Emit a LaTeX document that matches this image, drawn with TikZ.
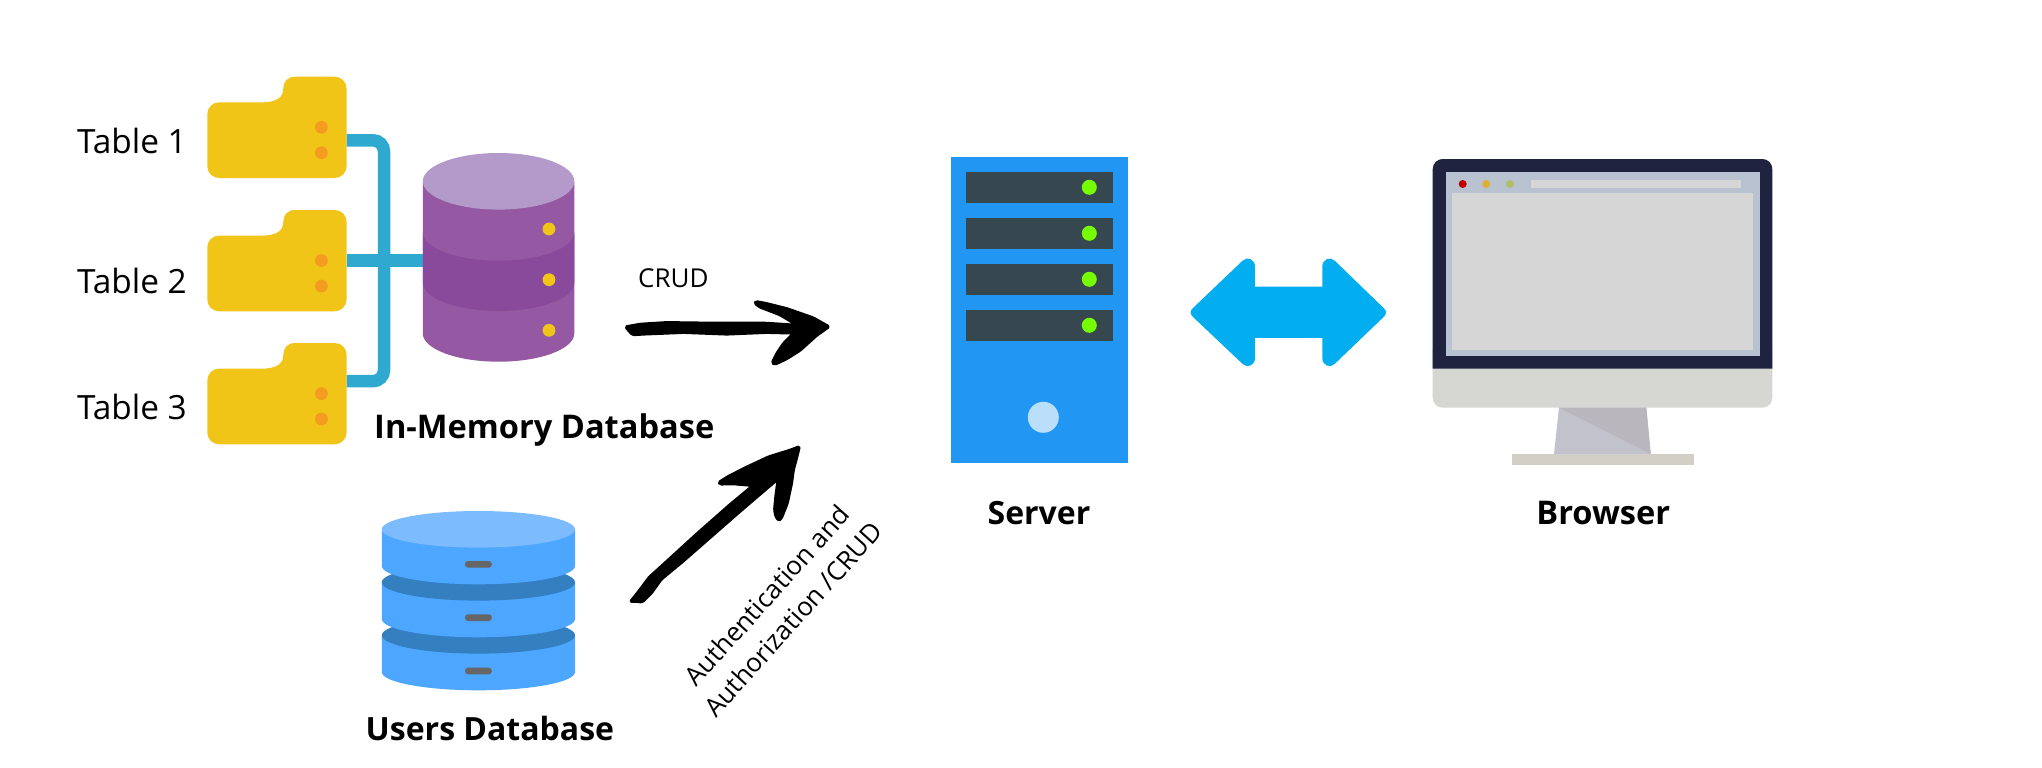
\documentclass[tikz,border=0pt]{standalone}
\usepackage{fontspec}
\setmainfont{Open Sans}
\definecolor{folderY}{HTML}{F1C518}
\definecolor{folderO}{HTML}{F39C20}
\definecolor{linkC}{HTML}{2FA9CF}
\definecolor{purpTop}{HTML}{B39ACB}
\definecolor{purpBody}{HTML}{9459A2}
\definecolor{purpMid}{HTML}{8A4A9C}
\definecolor{blueTop}{HTML}{7DBBFF}
\definecolor{blueBody}{HTML}{4DA6FF}
\definecolor{blueDark}{HTML}{337FC0}
\definecolor{pillC}{HTML}{666666}
\definecolor{srvBlue}{HTML}{2196F3}
\definecolor{srvSlot}{HTML}{37474F}
\definecolor{srvLed}{HTML}{76FF03}
\definecolor{srvBtn}{HTML}{BBDEFB}
\definecolor{dblArrow}{HTML}{02AEEF}
\definecolor{monDark}{HTML}{1F2340}
\definecolor{monScreen}{HTML}{B8C2D0}
\definecolor{monGray}{HTML}{D6D6D6}
\definecolor{monChin}{HTML}{D6D7D2}
\definecolor{monBase}{HTML}{D2CFC6}
\definecolor{standA}{HTML}{C1C2CC}
\definecolor{standB}{HTML}{BAB6BE}
\definecolor{dotR}{HTML}{C00000}
\definecolor{dotY}{HTML}{E0B030}
\definecolor{dotG}{HTML}{AFC068}
\tikzset{
  tablelabel/.style={anchor=base west,inner sep=0pt,font=\fontsize{33.4}{40}\selectfont},
  titlelabel/.style={anchor=base,inner sep=0pt,font=\fontsize{32.6}{38}\selectfont\bfseries},
  titlesmall/.style={anchor=base,inner sep=0pt,font=\fontsize{32}{38}\selectfont\bfseries},
  smalllabel/.style={inner sep=0pt,font=\fontsize{26}{35}\selectfont},
  link/.style={draw=linkC,line width=12.5pt},
  inkarrow/.style={fill=black,draw=black,line width=2.5pt,line join=round,rounded corners=1.5pt},
  folder/.pic={
    \fill[folderY] (12,25.6) -- (55,25.6) .. controls (70,25.6) and (76,20) .. (76,12)
      .. controls (76,5) and (80,0) .. (88,0) -- (127.3,0)
      .. controls (134,0) and (139.3,5) .. (139.3,12) -- (139.3,89.3)
      .. controls (139.3,96) and (134,101.3) .. (127.3,101.3) -- (12,101.3)
      .. controls (5,101.3) and (0,96) .. (0,89.3) -- (0,37.6)
      .. controls (0,31) and (5,25.6) .. (12,25.6) -- cycle;
    \fill[folderO] (114.1,50.6) circle[radius=6.4pt];
    \fill[folderO] (114.1,76) circle[radius=6.4pt];
  }
}
\begin{document}
\begin{tikzpicture}[x=1pt,y=-1pt]
\useasboundingbox (0,0) rectangle (2042,768);
\fill[white] (0,0) rectangle (2042,768);

% connectors from tables to the in-memory database
\coordinate (t1) at (346.6,140.3);
\coordinate (t2) at (346.6,260.5);
\coordinate (t3) at (346.6,381.2);
\coordinate (busTop) at (384,140.3);
\coordinate (busBot) at (384,381.2);
\coordinate (dbIn) at (430,260.5);
\draw[link,rounded corners=11pt] (t1) -- (busTop) -- (busBot) -- (t3);
\draw[link] (t2) -- (dbIn);

% folders
\pic at (207.3,76.7) {folder};
\pic at (207.3,210) {folder};
\pic at (207.3,343) {folder};
\node[tablelabel] (lab1) at (76.8,153) {Table 1};
\node[tablelabel] (lab2) at (76.8,293.6) {Table 2};
\node[tablelabel] (lab3) at (76.8,419.6) {Table 3};

% in-memory database
\fill[purpBody] (422.8,181.3) -- (422.8,333.4) arc[x radius=75.75pt,y radius=28.3pt,start angle=180,end angle=360] -- (574.3,181.3) -- cycle;
\fill[purpMid] (422.8,232.4) arc[x radius=75.75pt,y radius=28.3pt,start angle=180,end angle=360] -- (574.3,282.7) arc[x radius=75.75pt,y radius=28.3pt,start angle=360,end angle=180] -- cycle;
\fill[purpTop] (498.55,181.3) ellipse[x radius=75.75pt,y radius=28.3pt];
\foreach \yy in {229,279.7,330.3}{\fill[folderY] (549,\yy) circle[radius=6.4pt];}
\node[titlelabel] (memlab) at (544.3,438.7) {In-Memory Database};

% CRUD arrow
\node[smalllabel,anchor=base west] (crud) at (638,287.3) {CRUD};
\begin{scope}[shift={(600,270)},x=0.3333pt,y=-0.3333pt]
\fill[inkarrow] (76,170) -- (120,162) -- (200,157) -- (350,159) -- (500,159) -- (590,165) -- (540,135) -- (480,112) -- (464,100) -- (468,94) -- (500,100) -- (560,115) -- (640,143) -- (688,170) -- (650,197) -- (600,242) -- (560,267) -- (524,284) -- (516,278) -- (530,250) -- (550,220) -- (580,190) -- (500,188) -- (380,193) -- (250,188) -- (130,193) -- (98,195) -- (88,185) -- cycle;
\end{scope}

% users database
\foreach \tp/\bt in {635.3/672,582.3/619}{
  \fill[blueBody] (381.8,\tp) -- (381.8,\bt) arc[x radius=96.6pt,y radius=18.3pt,start angle=180,end angle=360] -- (575,\tp) -- cycle;
  \fill[blueDark] (478.4,\tp) ellipse[x radius=96.6pt,y radius=18.3pt];
}
\fill[blueBody] (381.8,529.3) -- (381.8,566) arc[x radius=96.6pt,y radius=18.3pt,start angle=180,end angle=360] -- (575,529.3) -- cycle;
\fill[blueTop] (478.4,529.3) ellipse[x radius=96.6pt,y radius=18.3pt];
\foreach \py in {561,614.3,667.7}{\fill[pillC,rounded corners=3pt] (465,\py) rectangle (491.8,\py+6.7);}
\node[titlesmall] (userlab) at (489.9,740.6) {Users Database};

% authentication arrow
\begin{scope}[shift={(340,420)},x=0.35714pt,y=-0.3333pt]
\fill[inkarrow] (812,546) -- (835,515) -- (865,472) -- (905,433) -- (1000,340) -- (1090,255) -- (1155,197) -- (1100,192) -- (1064,193) -- (1060,187) -- (1088,168) -- (1140,140) -- (1200,110) -- (1260,90) -- (1287,79) -- (1280,110) -- (1270,150) -- (1265,190) -- (1253,250) -- (1236,296) -- (1228,302) -- (1220,290) -- (1216,270) -- (1220,225) -- (1226,178) -- (1180,220) -- (1120,275) -- (1040,350) -- (960,425) -- (900,478) -- (872,520) -- (846,547) -- (825,544) -- cycle;
\end{scope}
\node[smalllabel,align=center,rotate=48] (authlab) at (780,607) {Authentication and\\Authorization /CRUD};

% server
\fill[srvBlue] (951,157) rectangle (1128,463);
\foreach \sy in {172,218,264,310}{
  \fill[srvSlot] (966,\sy) rectangle (1113,\sy+30.7);
  \fill[srvLed] (1089.3,\sy+15.3) circle[radius=7.5pt];
}
\fill[srvBtn] (1043.3,417.3) circle[radius=15.5pt];
\node[titlesmall] (srvlab) at (1039,524) {Server};

% double arrow
\begin{scope}[shift={(930,140)},x=0.3333pt,y=-0.3333pt]
\fill[dblArrow] (975,440) -- (975,380) .. controls (975,358) and (952,348) .. (938,362)
  -- (788,505) .. controls (780,512) and (780,522) .. (788,530)
  -- (938,672) .. controls (952,686) and (975,676) .. (975,654)
  -- (975,594) -- (1177,594) -- (1177,654) .. controls (1177,676) and (1200,686) .. (1214,672)
  -- (1362,530) .. controls (1370,522) and (1370,512) .. (1362,505)
  -- (1214,362) .. controls (1200,348) and (1177,358) .. (1177,380)
  -- (1177,440) -- cycle;
\end{scope}

% browser
\fill[monChin,rounded corners=10pt] (1432.7,340) rectangle (1772.3,407.7);
\fill[monDark,rounded corners=10pt] (1432.7,368.7) -- (1432.7,159) -- (1772.3,159) [sharp corners] -- (1772.3,368.7) -- cycle;
\fill[monScreen] (1445.7,172) rectangle (1759.7,355.7);
\fill[monGray] (1452,192.7) rectangle (1753,350);
\fill[monGray] (1531,180) rectangle (1741,188);
\fill[dotR] (1462.7,184) circle[radius=4pt];
\fill[dotY] (1486.3,184) circle[radius=4pt];
\fill[dotG] (1510,184) circle[radius=4pt];
\fill[standA] (1559,407.7) -- (1646.3,407.7) -- (1650.7,454) -- (1554,454) -- cycle;
\fill[standB] (1559,407.7) -- (1646.3,407.7) -- (1650.7,454) -- cycle;
\fill[monBase] (1511.7,454) rectangle (1693.7,465);
\node[titlelabel] (brlab) at (1603.3,524) {Browser};
\end{tikzpicture}
\end{document}
